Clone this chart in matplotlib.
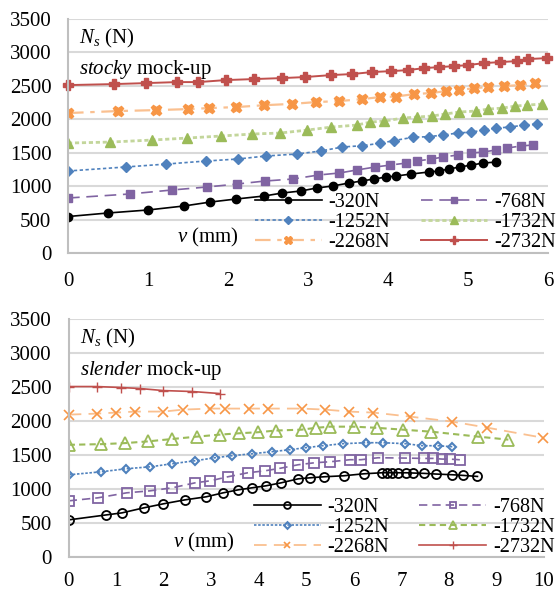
import matplotlib
matplotlib.use("Agg")
import matplotlib.pyplot as plt

plt.rcParams["font.family"] = ["Liberation Serif", "DejaVu Serif"]
plt.rcParams["mathtext.fontset"] = "custom"
plt.rcParams["mathtext.rm"] = "Liberation Serif"
plt.rcParams["mathtext.it"] = "Liberation Serif:italic"

LABELS = ["-320N", "-768N", "-1252N", "-1732N", "-2268N", "-2732N"]

# stocky mock-up (top panel)
top320_x = [0, 0.5, 1.0, 1.45, 1.78, 2.1, 2.45, 2.68, 2.91, 3.11, 3.31, 3.51, 3.67, 3.82,
            3.98, 4.1, 4.29, 4.51, 4.64, 4.76, 4.9, 5.04, 5.19, 5.35]
top320_y = [545, 598, 643, 703, 762, 807, 852, 897, 927, 972, 1002, 1046, 1076, 1106,
            1136, 1151, 1181, 1211, 1226, 1256, 1286, 1315, 1345, 1360]
top768_x = [0, 0.77, 1.3, 1.74, 2.11, 2.46, 2.81, 3.13, 3.39, 3.61, 3.84, 4.03, 4.23, 4.36,
            4.54, 4.69, 4.87, 5.04, 5.19, 5.35, 5.49, 5.66, 5.81]
top768_y = [822, 882, 942, 987, 1031, 1076, 1106, 1166, 1196, 1241, 1286, 1315, 1345, 1375,
            1405, 1435, 1465, 1495, 1510, 1540, 1570, 1600, 1615]
top1252_x = [0, 0.72, 1.23, 1.72, 2.12, 2.47, 2.86, 3.16, 3.43, 3.67, 3.9, 4.07, 4.31, 4.51,
             4.69, 4.87, 5.04, 5.2, 5.35, 5.52, 5.7, 5.86]
top1252_y = [1226, 1286, 1330, 1375, 1405, 1450, 1480, 1525, 1585, 1604, 1640, 1680, 1730, 1740,
             1764, 1794, 1808, 1838, 1868, 1883, 1913, 1928]
top1732_x = [0, 0.53, 1.05, 1.49, 1.91, 2.3, 2.65, 2.99, 3.29, 3.61, 3.78, 3.95, 4.19, 4.36,
             4.55, 4.71, 4.89, 5.1, 5.25, 5.43, 5.59, 5.74, 5.92]
top1732_y = [1644, 1659, 1689, 1719, 1749, 1779, 1794, 1838, 1883, 1913, 1958, 1973, 2018, 2033,
             2048, 2078, 2108, 2123, 2152, 2167, 2197, 2212, 2227]
top2268_x = [0, 0.63, 1.1, 1.5, 1.76, 2.1, 2.45, 2.8, 3.1, 3.39, 3.68, 3.9, 4.1, 4.33,
             4.54, 4.72, 4.89, 5.08, 5.25, 5.45, 5.65, 5.84]
top2268_y = [2093, 2123, 2137, 2152, 2167, 2182, 2210, 2230, 2257, 2272, 2302, 2332, 2340, 2377,
             2392, 2421, 2436, 2466, 2481, 2496, 2511, 2541]
top2732_x = [0, 0.57, 0.98, 1.36, 1.63, 1.97, 2.32, 2.68, 2.96, 3.29, 3.55, 3.8, 4.04, 4.25,
             4.45, 4.64, 4.83, 5.0, 5.2, 5.4, 5.61, 5.75, 5.99]
top2732_y = [2511, 2526, 2541, 2556, 2556, 2586, 2601, 2616, 2631, 2661, 2676, 2706, 2720, 2735,
             2765, 2780, 2795, 2810, 2840, 2855, 2870, 2900, 2915]

# slender mock-up (bottom panel)
bot320_x = [0, 0.79, 1.12, 1.58, 1.99, 2.45, 2.89, 3.25, 3.57, 3.86, 4.15, 4.47, 4.83, 5.08,
            5.37, 5.79, 6.21, 6.59, 6.7, 6.8, 6.93, 7.1, 7.25, 7.48, 7.73, 8.07, 8.3, 8.6]
bot320_y = [546, 619, 649, 723, 782, 841, 885, 944, 988, 1018, 1047, 1091, 1150, 1165,
            1180, 1195, 1224, 1239, 1239, 1239, 1239, 1239, 1235, 1230, 1220, 1210, 1200, 1185]
bot768_x = [0, 0.61, 1.22, 1.71, 2.18, 2.66, 2.98, 3.35, 3.77, 4.13, 4.45, 4.83, 5.17, 5.5,
            5.92, 6.15, 6.51, 7.08, 7.48, 7.67, 7.86, 8.02, 8.23]
bot768_y = [826, 870, 944, 973, 1018, 1091, 1121, 1180, 1239, 1268, 1305, 1357, 1386, 1401,
            1431, 1431, 1460, 1455, 1450, 1450, 1440, 1440, 1430]
bot1252_x = [0, 0.68, 1.21, 1.72, 2.18, 2.66, 3.08, 3.44, 3.86, 4.28, 4.65, 4.99, 5.35, 5.77,
             6.26, 6.61, 7.08, 7.44, 7.76, 8.07]
bot1252_y = [1209, 1253, 1298, 1327, 1372, 1416, 1460, 1490, 1519, 1549, 1578, 1608, 1637, 1667,
             1681, 1681, 1667, 1637, 1637, 1622]
bot1732_x = [0, 0.69, 1.18, 1.66, 2.17, 2.69, 3.18, 3.59, 3.98, 4.36, 4.9, 5.2, 5.5, 6.0,
             6.48, 7.03, 7.63, 8.62, 9.25]
bot1732_y = [1650, 1660, 1675, 1700, 1735, 1770, 1800, 1820, 1835, 1860, 1873, 1900, 1917, 1917,
             1900, 1873, 1843, 1770, 1726]
bot2268_x = [0, 0.59, 0.99, 1.4, 1.99, 2.41, 2.98, 3.28, 3.79, 4.2, 4.9, 5.39, 5.9, 6.41,
             7.18, 8.07, 8.8, 9.97]
bot2268_y = [2094, 2109, 2124, 2139, 2139, 2168, 2183, 2183, 2183, 2183, 2183, 2168, 2139, 2124,
             2065, 1991, 1903, 1755]
bot2732_x = [0, 0.59, 1.1, 1.5, 1.99, 2.6, 3.18]
bot2732_y = [2507, 2507, 2493, 2478, 2448, 2434, 2404]

Y_TICKS = [0, 500, 1000, 1500, 2000, 2500, 3000, 3500]

BLACK = "#000000"
PURPLE = "#8064a2"
BLUE = "#4f81bd"
GREEN = "#9bbb59"
ORANGE = "#f79646"
LORANGE = "#fac090"
RED = "#c0504d"


def style_axes(ax, xmax, xpad):
    ax.set_xlim(0, xmax)
    ax.set_ylim(0, 3500)
    ax.set_xticks(range(0, xmax + 1))
    ax.set_yticks(Y_TICKS)
    ax.grid(axis="y", color="#d9d9d9", linewidth=1.5)
    ax.set_axisbelow(True)
    for s in ("top", "right"):
        ax.spines[s].set_visible(False)
    for s in ("left", "bottom"):
        ax.spines[s].set_color("#bfbfbf")
        ax.spines[s].set_linewidth(1.5)
    ax.tick_params(axis="both", length=0, labelsize=15)
    ax.tick_params(axis="x", pad=xpad)
    ax.tick_params(axis="y", pad=12)


fig = plt.figure(figsize=(5.58, 5.93), dpi=100)
ax1 = fig.add_axes([0.1219, 0.5734, 0.8602, 0.3946])
ax2 = fig.add_axes([0.1231, 0.0607, 0.8518, 0.4013])
style_axes(ax1, 6, 14)
style_axes(ax2, 10, 11)

# top panel: filled markers
ax1.plot(top320_x, top320_y, color=BLACK, lw=1.2, marker="o", ms=6, label=LABELS[0])
ax1.plot(top768_x, top768_y, color=PURPLE, lw=1.2, ls=(0, (7, 4)), marker="s", ms=6,
         label=LABELS[1])
ax1.plot(top1252_x, top1252_y, color=BLUE, lw=1.2, ls=(0, (2, 1.5)), marker="D", ms=5.5,
         label=LABELS[2])
ax1.plot(top1732_x, top1732_y, color="#c3d69b", lw=2, ls=(0, (1.5, 1)), marker="^", ms=7,
         mfc=GREEN, mec=GREEN, label=LABELS[3])
ax1.plot(top2268_x, top2268_y, color=LORANGE, lw=1.6, ls=(0, (7, 3, 2, 3)), marker="X", ms=7.5,
         mfc=ORANGE, mec=ORANGE, label=LABELS[4])
ax1.plot(top2732_x, top2732_y, color=RED, lw=1.4, marker="P", ms=7, clip_on=False,
         label=LABELS[5])

# bottom panel: open markers
ax2.plot(bot320_x, bot320_y, color=BLACK, lw=1.2, marker="o", ms=6.5, mfc="none", mew=1.3,
         label=LABELS[0])
ax2.plot(bot768_x, bot768_y, color=PURPLE, lw=1.2, ls=(0, (5, 3)), marker="s", ms=6.5,
         mfc="none", mew=1.3, label=LABELS[1])
ax2.plot(bot1252_x, bot1252_y, color=BLUE, lw=1.2, ls=(0, (1.5, 1)), marker="D", ms=4.5,
         mfc="none", mew=1.5, label=LABELS[2])
ax2.plot(bot1732_x, bot1732_y, color=GREEN, lw=1.5, ls=(0, (3, 2)), marker="^", ms=8.5,
         mfc="none", mew=1.3, label=LABELS[3])
ax2.plot(bot2268_x, bot2268_y, color=LORANGE, lw=1.3, ls=(0, (7, 4)), marker="x", ms=6.5,
         mec=ORANGE, mew=1.2, clip_on=False, label=LABELS[4])
ax2.plot(bot2732_x, bot2732_y, color=RED, lw=1.2, marker="+", ms=7, mew=1.0,
         label=LABELS[5])

# legend filled row by row (Excel style)
ORDER = [0, 2, 4, 1, 3, 5]
for ax, name, ly in ((ax1, "stocky", 0.258), (ax2, "slender", 0.25)):
    ax.text(0.023, 0.918, r"$N_s$ (N)", transform=ax.transAxes, fontsize=15, va="center")
    ax.text(0.023, 0.783, r"$\mathit{%s}$ mock-up" % name, transform=ax.transAxes,
            fontsize=15, va="center")
    h, l = ax.get_legend_handles_labels()
    ax.legend([h[i] for i in ORDER], [l[i] for i in ORDER],
              loc="upper left", bbox_to_anchor=(0.39, ly), ncol=2, frameon=False,
              fontsize=14.5, handlelength=3.3, handletextpad=0.35, columnspacing=1.5,
              labelspacing=0.05, borderpad=0, borderaxespad=0, markerscale=0.75)

ax1.text(0.292, 0.068, r"$v$ (mm)", transform=ax1.transAxes, fontsize=15,
         ha="center", va="center")
ax2.text(0.285, 0.063, r"$v$ (mm)", transform=ax2.transAxes, fontsize=15,
         ha="center", va="center")

fig.savefig("out.png", dpi=100)
